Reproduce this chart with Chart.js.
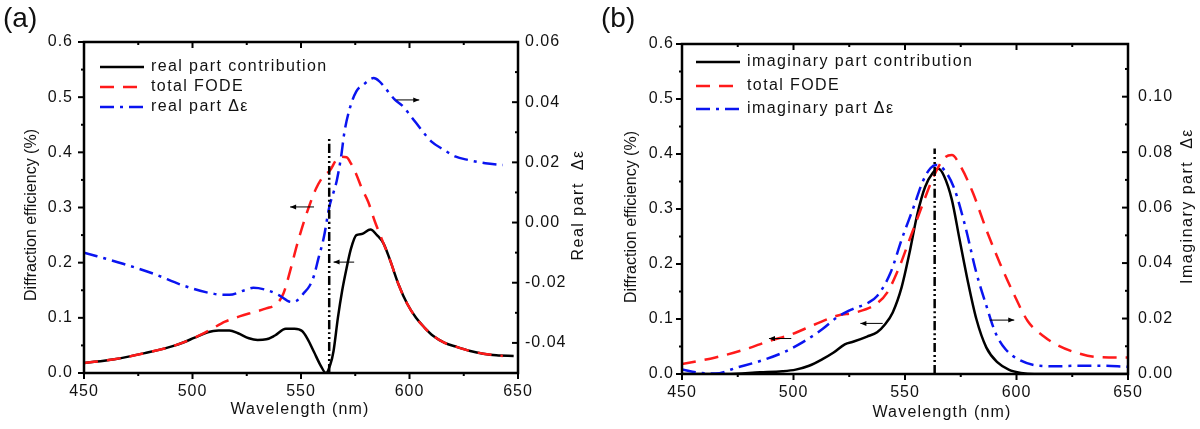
<!DOCTYPE html>
<html lang="en">
<head>
<meta charset="UTF-8">
<title>FODE spectra</title>
<script src="https://cdn.jsdelivr.net/npm/chart.js"></script>
<style>
  body { margin: 0; background: #fff; }
  .panel { position: absolute; top: 0; width: 600px; height: 429px; }
  #panelA { left: 0; }
  #panelB { left: 600px; }
</style>
</head>
<body>
<div class="panel" id="panelA"><canvas id="chartA" width="600" height="429"></canvas></div>
<div class="panel" id="panelB"><canvas id="chartB" width="600" height="429"></canvas></div>
<script>
// ---- panel (a): real part ----
const aRealX  = [450,464,478,492,501,507,512,517,521,526,530,534,538,543,547,550.5,553,556,559,561.5,563.5,565,567,569,571,573,575.5,578,582,585,588,591,595,599,603,607,611,616,622,628,634,640,648];
const aRealY  = [0.018,0.025,0.036,0.050,0.064,0.074,0.077,0.077,0.072,0.063,0.060,0.061,0.068,0.080,0.080,0.076,0.062,0.038,0.014,0.0,0.015,0.04,0.10,0.15,0.19,0.225,0.25,0.252,0.26,0.25,0.235,0.205,0.16,0.125,0.10,0.082,0.067,0.055,0.047,0.040,0.035,0.032,0.031];
const aTotalX = [450,464,478,492,501,508,515,522,528,534,539,542,545,548,551,554,557,560,563.5,566,568,571,573,575.5,578,581,584,587,591,595,599,603,607,611,616,622,628,634,640,643];
const aTotalY = [0.018,0.025,0.036,0.050,0.064,0.078,0.093,0.103,0.110,0.117,0.126,0.145,0.185,0.230,0.270,0.305,0.335,0.355,0.368,0.385,0.392,0.391,0.380,0.360,0.335,0.310,0.275,0.245,0.205,0.16,0.125,0.10,0.082,0.067,0.055,0.047,0.040,0.035,0.032,0.031];
const aEpsX   = [450,468,482,496,510,517,524,528,535,540,545.5,548,551,554,556,558,560.5,563,566.5,568.5,570,572.5,575.5,579,583.5,586,589.5,593,597,601,605.5,610,616,621,627,635,643];
const aEpsY   = [-0.010,-0.0137,-0.017,-0.021,-0.0237,-0.024,-0.0225,-0.0217,-0.0226,-0.0242,-0.0264,-0.026,-0.0237,-0.021,-0.0176,-0.012,-0.005,0.005,0.014,0.022,0.030,0.038,0.0436,0.046,0.048,0.047,0.0441,0.041,0.0386,0.035,0.0308,0.027,0.0241,0.022,0.0208,0.0197,0.0191];
const aMarkX  = [563, 563];
const aMarkY  = [0, 0.43];
const aArrows = [[556, 545, 0.301], [574.5, 565, 0.201], [594, 604.5, 0.495]]; // from x, to x, y

// ---- panel (b): imaginary part ----
const bImagX  = [450,470,485,495,501,507,513,518,523,527,533,537.5,541,544.5,548.5,552,555.5,559,562.5,565,567.5,571,574.5,578,582,586.5,591.5,596.5,602,608,650];
const bImagY  = [0,0,0.003,0.005,0.008,0.015,0.027,0.039,0.054,0.059,0.068,0.076,0.090,0.112,0.158,0.220,0.290,0.340,0.366,0.373,0.360,0.317,0.244,0.172,0.100,0.048,0.021,0.008,0.002,0,0];
const bTotalX = [450,465,478.5,489,499,509.5,519.5,528,537,542,547,552,557.5,562.5,567.5,571,575,580.5,586.5,592.5,598.5,605,612,619,627.5,636,650];
const bTotalY = [0.018,0.030,0.045,0.060,0.072,0.090,0.106,0.112,0.127,0.148,0.190,0.244,0.304,0.356,0.392,0.398,0.377,0.329,0.262,0.202,0.148,0.0965,0.069,0.051,0.038,0.031,0.030];
const bEpsX   = [450,458,465,475,485.5,495.5,504,513,519.5,526.5,533.5,537.5,543.5,548.5,554,558,561.5,564,567.5,572,577,582,586.5,590.5,595,602,610,619,627.5,636,650];
const bEpsY   = [0.0016,0.0004,0.0002,0.0024,0.0048,0.0078,0.0114,0.0162,0.0204,0.0234,0.0257,0.0281,0.0365,0.0485,0.0605,0.0695,0.0743,0.0754,0.0737,0.0671,0.0533,0.0365,0.0246,0.015,0.009,0.0048,0.003,0.0028,0.003,0.003,0.0026];
const bMarkX  = [563.3, 563.3];
const bMarkY  = [0, 0.41];
const bArrows = [[499, 489, 0.0645], [540, 530, 0.092], [588, 599, 0.098]];

// ---- ticks ----
const xTicks    = [450, 500, 550, 600, 650];
const xMinor    = [475, 525, 575, 625];
const yTicks    = [0, 0.1, 0.2, 0.3, 0.4, 0.5, 0.6];
const yMinor    = [0.05, 0.15, 0.25, 0.35, 0.45, 0.55];
const aY2Ticks  = [-0.04, -0.02, 0, 0.02, 0.04, 0.06];
const aY2Minor  = [-0.05, -0.03, -0.01, 0.01, 0.03, 0.05];
const bY2Ticks  = [0, 0.02, 0.04, 0.06, 0.08, 0.10];
const bY2Minor  = [0.01, 0.03, 0.05, 0.07, 0.09, 0.11];

const FONT = "Arial, 'Liberation Sans', sans-serif";
const RED = '#ff1a1a', BLUE = '#0a14f0';
const DASH = [14, 9];
const DASHDOT = [14, 6, 3, 6];

function pts(xs, ys) { return xs.map((x, i) => ({ x: x, y: ys[i] })); }

function decor(p) {
  return {
    id: 'decor',
    beforeDraw(chart) { chart.ctx.letterSpacing = '1px'; },
    afterDraw(chart) {
      const ctx = chart.ctx, a = chart.chartArea;
      const sx = chart.scales.x, sy = chart.scales.y, sy2 = chart.scales.y2;
      ctx.save();
      ctx.strokeStyle = '#000';
      // ticks
      ctx.lineWidth = 2;
      function tk(vals, len) {
        vals.forEach(v => {
          const px = sx.getPixelForValue(v);
          ctx.beginPath();
          ctx.moveTo(px, a.bottom); ctx.lineTo(px, a.bottom + len);
          ctx.moveTo(px, a.top); ctx.lineTo(px, a.top + len);
          ctx.stroke();
        });
      }
      tk(xTicks, 6); tk(xMinor, 3);
      [[yTicks, 6], [yMinor, 3]].forEach(([vals, len]) => vals.forEach(v => {
        const py = sy.getPixelForValue(v);
        ctx.beginPath(); ctx.moveTo(a.left, py); ctx.lineTo(a.left - len, py); ctx.stroke();
      }));
      [[p.y2Ticks, 6], [p.y2Minor, 3]].forEach(([vals, len]) => vals.forEach(v => {
        const py = sy2.getPixelForValue(v);
        ctx.beginPath(); ctx.moveTo(a.right, py); ctx.lineTo(a.right - len, py); ctx.stroke();
      }));
      // frame
      ctx.lineWidth = 2.5;
      ctx.strokeRect(a.left, a.top, a.right - a.left, a.bottom - a.top);

      // arrows
      ctx.lineWidth = 1;
      ctx.fillStyle = '#000';
      p.arrows.forEach(([x0, x1, y]) => {
        const X0 = sx.getPixelForValue(x0), X1 = sx.getPixelForValue(x1), Y = sy.getPixelForValue(y);
        const d = X1 > X0 ? 1 : -1;
        ctx.beginPath(); ctx.moveTo(X0, Y); ctx.lineTo(X1, Y); ctx.stroke();
        ctx.beginPath(); ctx.moveTo(X1, Y); ctx.lineTo(X1 - d * 6, Y - 2.5); ctx.lineTo(X1 - d * 6, Y + 2.5); ctx.closePath(); ctx.fill();
      });

      // legend
      ctx.font = '16px ' + FONT;
      ctx.textBaseline = 'middle';
      ctx.textAlign = 'left';
      ctx.letterSpacing = '1.4px';
      p.legend.forEach((item, i) => {
        const y = p.legY[i];
        ctx.strokeStyle = item.color; ctx.lineWidth = 2.5; ctx.setLineDash(item.dash);
        ctx.beginPath(); ctx.moveTo(p.legX, y); ctx.lineTo(p.legX + 44, y); ctx.stroke();
        ctx.setLineDash([]);
        ctx.fillStyle = '#111';
        ctx.fillText(item.text, p.legX + 51, y);
      });

      // axis titles
      ctx.fillStyle = '#111';
      ctx.textAlign = 'center';
      ctx.font = '16px ' + FONT;
      ctx.letterSpacing = '1.2px';
      ctx.fillText('Wavelength (nm)', p.xTitle[0], p.xTitle[1]);
      ctx.letterSpacing = '0px';
      ctx.save(); ctx.translate(p.yTitle[0], p.yTitle[1]); ctx.rotate(-Math.PI / 2);
      ctx.fillText('Diffraction efficiency (%)', 0, 0); ctx.restore();
      ctx.letterSpacing = '1.5px';
      ctx.save(); ctx.translate(p.y2Title[0], p.y2Title[1]); ctx.rotate(-Math.PI / 2);
      ctx.fillText(p.y2Text, 0, 0); ctx.restore();

      // panel label
      ctx.letterSpacing = '0px';
      ctx.textAlign = 'left';
      ctx.textBaseline = 'alphabetic';
      ctx.font = '28px ' + FONT;
      ctx.fillText(p.label, p.labelX, 27);
      ctx.restore();
    }
  };
}

function makeChart(id, p) {
  const line = (data, color, dash, axis, order) => ({
    data: data, yAxisID: axis, borderColor: color, borderWidth: 2.5, borderDash: dash,
    pointRadius: 0, cubicInterpolationMode: 'monotone', fill: false, order: order
  });
  return new Chart(document.getElementById(id), {
    type: 'line',
    data: {
      datasets: [
        line(pts(p.markX, p.markY), '#000', [9, 3, 2, 3, 2, 3], 'y', 0),
        line(pts(p.epsX, p.epsY), BLUE, DASHDOT, 'y2', 1),
        line(pts(p.totalX, p.totalY), RED, DASH, 'y', 2),
        line(pts(p.contX, p.contY), '#000', [], 'y', 3)
      ]
    },
    options: {
      responsive: false,
      animation: false,
      devicePixelRatio: 1,
      layout: { padding: { top: p.area.top, left: 0, right: 0, bottom: 0 } },
      plugins: { legend: { display: false }, tooltip: { enabled: false } },
      scales: {
        x: {
          type: 'linear', min: 450, max: 650,
          afterBuildTicks: s => { s.ticks = xTicks.map(v => ({ value: v })); },
          afterFit: s => { s.height = 429 - p.area.bottom; },
          grid: { display: false, drawTicks: false }, border: { display: false },
          ticks: { padding: 9, color: '#111', font: { family: FONT, size: 16 }, maxRotation: 0 }
        },
        y: {
          position: 'left', min: 0, max: 0.6,
          afterBuildTicks: s => { s.ticks = yTicks.map(v => ({ value: v })); },
          afterFit: s => { s.width = p.area.left; },
          grid: { display: false, drawTicks: false }, border: { display: false },
          ticks: { padding: p.yPad, color: '#111', font: { family: FONT, size: 16 }, callback: v => v.toFixed(1) }
        },
        y2: {
          position: 'right', min: p.y2Min, max: p.y2Max,
          afterBuildTicks: s => { s.ticks = p.y2Ticks.map(v => ({ value: v })); },
          afterFit: s => { s.width = 600 - p.area.right; },
          grid: { display: false, drawTicks: false }, border: { display: false },
          ticks: { padding: p.y2Pad, color: '#111', font: { family: FONT, size: 16 }, callback: v => v.toFixed(2) }
        }
      }
    },
    plugins: [decor(p)]
  });
}

makeChart('chartA', {
  contX: aRealX, contY: aRealY, totalX: aTotalX, totalY: aTotalY, epsX: aEpsX, epsY: aEpsY,
  markX: aMarkX, markY: aMarkY, arrows: aArrows,
  y2Min: -0.05, y2Max: 0.06, y2Ticks: aY2Ticks, y2Minor: aY2Minor,
  area: { left: 84, right: 518, top: 42, bottom: 373 }, yPad: 11, y2Pad: 7,
  legend: [
    { text: 'real part contribution', color: '#000', dash: [] },
    { text: 'total FODE', color: RED, dash: DASH },
    { text: 'real part \u0394\u03b5', color: BLUE, dash: DASHDOT }
  ],
  legX: 100, legY: [67, 87, 107],
  xTitle: [300, 410], yTitle: [32, 215], y2Title: [579, 205], y2Text: 'Real part  \u0394\u03b5',
  label: '(a)', labelX: 3
});

makeChart('chartB', {
  contX: bImagX, contY: bImagY, totalX: bTotalX, totalY: bTotalY, epsX: bEpsX, epsY: bEpsY,
  markX: bMarkX, markY: bMarkY, arrows: bArrows,
  y2Min: 0, y2Max: 0.119, y2Ticks: bY2Ticks, y2Minor: bY2Minor,
  area: { left: 82, right: 528, top: 44, bottom: 374 }, yPad: 8, y2Pad: 10,
  legend: [
    { text: 'imaginary part contribution', color: '#000', dash: [] },
    { text: 'total FODE', color: RED, dash: DASH },
    { text: 'imaginary part \u0394\u03b5', color: BLUE, dash: DASHDOT }
  ],
  legX: 96, legY: [62, 86, 109],
  xTitle: [342, 413], yTitle: [32, 217], y2Title: [588, 206], y2Text: 'Imaginary part  \u0394\u03b5',
  label: '(b)', labelX: 1
});
</script>
</body>
</html>
